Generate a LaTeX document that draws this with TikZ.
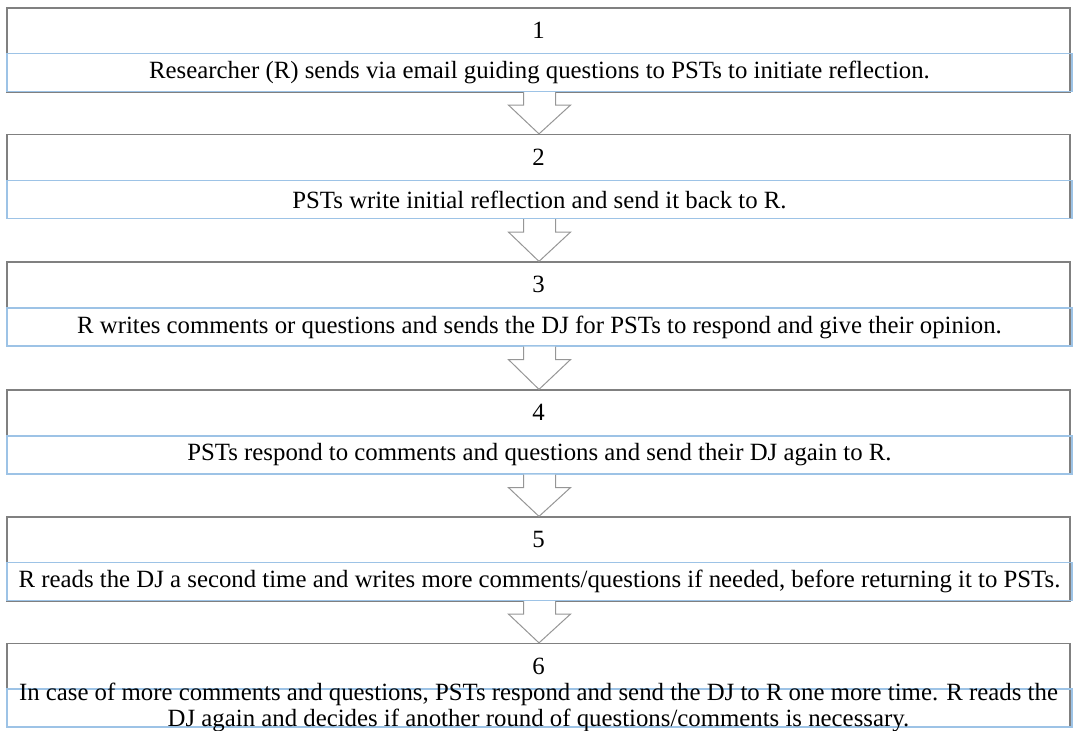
\documentclass[tikz,border=0pt]{standalone}
\usepackage{fontspec}
\setmainfont{Liberation Serif}
\usepackage{tikz}
\usetikzlibrary{calc, positioning}
\definecolor{boxgray}{RGB}{128,128,128}
\definecolor{boxblue}{RGB}{157,195,230}
\definecolor{arrgray}{RGB}{150,150,150}
\tikzstyle{numbox}=[draw=boxgray,line width=0.6pt,rectangle,minimum width=531.5pt,minimum height=42pt,inner sep=0pt]
\tikzstyle{txtbox}=[draw=boxblue,line width=0.6pt,rectangle,minimum width=532.5pt,minimum height=19pt,inner sep=0pt,fill=none]
\tikzstyle{every node}=[font=\fontsize{12.4}{12.6}\selectfont]
\tikzstyle{arrline}=[draw=arrgray,line width=0.5pt,fill=white,line join=miter]
\newcommand{\downblock}[2]{%
  \draw[arrline] ($(#1.south)+(-16,0)$) -- ($(#1.south)+(-16,13)$)
    -- ($(#1.south)+(-31,13)$) -- ($(#2.north)+(0.5,0)$)
    -- ($(#1.south)+(31,13)$) -- ($(#1.south)+(16,13)$)
    -- ($(#1.south)+(16,0)$);}

\begin{document}
\begin{tikzpicture}[x=0.5pt,y=-0.5pt]
    \useasboundingbox (0,0) rectangle (1073,731);
    % step boxes
    \node[numbox] (b1) at (538.5,50) {};
    \node[numbox] (b2) at (538.5,176.5) {};
    \node[numbox] (b3) at (538.5,304) {};
    \node[numbox] (b4) at (538.5,432) {};
    \node[numbox] (b5) at (538.5,559) {};
    \node[numbox] (b6) at (538.5,685.5) {};
    \node[] (n1) at (538.5,30) {1};
    \node[] (n2) at (538.5,157) {2};
    \node[] (n3) at (538.5,284.5) {3};
    \node[] (n4) at (538.5,412.5) {4};
    \node[] (n5) at (538.5,539.5) {5};
    \node[] (n6) at (538.5,666) {6};
    \node[txtbox] (t1) at (539.5,72.5) {Researcher (R) sends via email guiding questions to PSTs to initiate reflection.};
    \node[txtbox] (t2) at (539.5,199.5) {PSTs write initial reflection and send it back to R.};
    \node[txtbox] (t3) at (539.5,327) {R writes comments or questions and sends the DJ for PSTs to respond and give their opinion.};
    \node[txtbox] (t4) at (539.5,455) {PSTs respond to comments and questions and send their DJ again to R.};
    \node[txtbox] (t5) at (539.5,581.5) {R reads the DJ a second time and writes more comments/questions if needed, before returning it to PSTs.};
    \node[txtbox] (t6) at (539.5,708) {};
    \node[align=center,inner sep=0pt] (s6) at (538.5,707.5) {In case of more comments and questions, PSTs respond and send the DJ to R one more time. R reads the\\DJ again and decides if another round of questions/comments is necessary.};
    % arrows
    \downblock{t1}{b2}
    \downblock{t2}{b3}
    \downblock{t3}{b4}
    \downblock{t4}{b5}
    \downblock{t5}{b6}
\end{tikzpicture}
\end{document}
